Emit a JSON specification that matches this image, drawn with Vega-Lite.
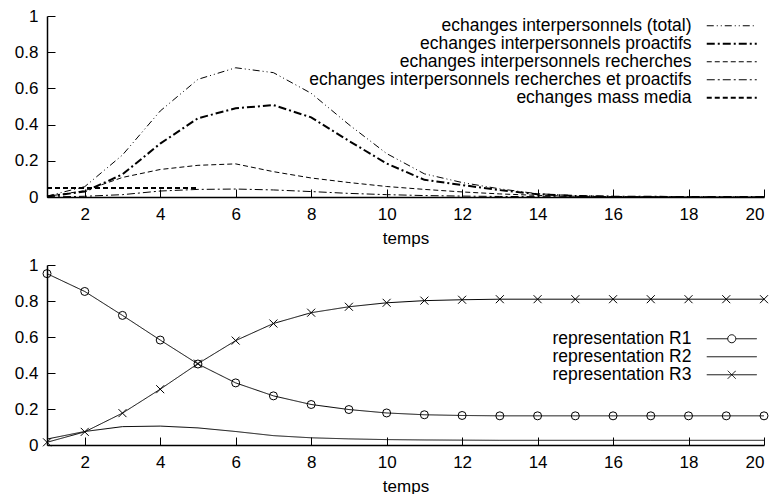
{
  "$schema": "https://vega.github.io/schema/vega-lite/v6.json",
  "padding": {"left": 14, "top": 7, "right": 0, "bottom": 0},
  "background": "white",
  "config": {
    "view": {"stroke": null},
    "font": "Liberation Sans",
    "axis": {
      "grid": false,
      "domainColor": "black",
      "domainWidth": 1.5,
      "tickColor": "black",
      "tickSize": -8,
      "labelColor": "black",
      "labelFont": "Liberation Sans",
      "labelFontSize": 17,
      "titleFont": "Liberation Sans",
      "titleFontSize": 17,
      "titleFontWeight": "normal",
      "titleColor": "black"
    },
    "legend": {
      "labelFont": "Liberation Sans",
      "labelFontSize": 17.5,
      "labelColor": "black",
      "labelLimit": 600,
      "labelAlign": "right",
      "labelOffset": -49,
      "symbolSize": 100,
      "symbolStrokeColor": "black",
      "symbolStrokeWidth": 1,
      "symbolFillColor": "transparent",
      "orient": "none",
      "padding": 0,
      "rowPadding": -2,
      "title": null
    }
  },
  "datasets": {
    "top": [
      {"t": 1, "serie": "echanges interpersonnels (total)", "v": 0.005},
      {"t": 2, "serie": "echanges interpersonnels (total)", "v": 0.057},
      {"t": 3, "serie": "echanges interpersonnels (total)", "v": 0.232},
      {"t": 4, "serie": "echanges interpersonnels (total)", "v": 0.475},
      {"t": 5, "serie": "echanges interpersonnels (total)", "v": 0.65},
      {"t": 6, "serie": "echanges interpersonnels (total)", "v": 0.714},
      {"t": 7, "serie": "echanges interpersonnels (total)", "v": 0.687},
      {"t": 8, "serie": "echanges interpersonnels (total)", "v": 0.573},
      {"t": 9, "serie": "echanges interpersonnels (total)", "v": 0.40},
      {"t": 10, "serie": "echanges interpersonnels (total)", "v": 0.24},
      {"t": 11, "serie": "echanges interpersonnels (total)", "v": 0.128},
      {"t": 12, "serie": "echanges interpersonnels (total)", "v": 0.08},
      {"t": 13, "serie": "echanges interpersonnels (total)", "v": 0.045},
      {"t": 14, "serie": "echanges interpersonnels (total)", "v": 0.018},
      {"t": 15, "serie": "echanges interpersonnels (total)", "v": 0.008},
      {"t": 16, "serie": "echanges interpersonnels (total)", "v": 0.003},
      {"t": 17, "serie": "echanges interpersonnels (total)", "v": 0.001},
      {"t": 18, "serie": "echanges interpersonnels (total)", "v": 0},
      {"t": 19, "serie": "echanges interpersonnels (total)", "v": 0},
      {"t": 20, "serie": "echanges interpersonnels (total)", "v": 0},
      {"t": 1, "serie": "echanges interpersonnels proactifs", "v": 0.003},
      {"t": 2, "serie": "echanges interpersonnels proactifs", "v": 0.03},
      {"t": 3, "serie": "echanges interpersonnels proactifs", "v": 0.125},
      {"t": 4, "serie": "echanges interpersonnels proactifs", "v": 0.295},
      {"t": 5, "serie": "echanges interpersonnels proactifs", "v": 0.435},
      {"t": 6, "serie": "echanges interpersonnels proactifs", "v": 0.49},
      {"t": 7, "serie": "echanges interpersonnels proactifs", "v": 0.508},
      {"t": 8, "serie": "echanges interpersonnels proactifs", "v": 0.44},
      {"t": 9, "serie": "echanges interpersonnels proactifs", "v": 0.31},
      {"t": 10, "serie": "echanges interpersonnels proactifs", "v": 0.185},
      {"t": 11, "serie": "echanges interpersonnels proactifs", "v": 0.095},
      {"t": 12, "serie": "echanges interpersonnels proactifs", "v": 0.066},
      {"t": 13, "serie": "echanges interpersonnels proactifs", "v": 0.038},
      {"t": 14, "serie": "echanges interpersonnels proactifs", "v": 0.015},
      {"t": 15, "serie": "echanges interpersonnels proactifs", "v": 0.006},
      {"t": 16, "serie": "echanges interpersonnels proactifs", "v": 0.002},
      {"t": 17, "serie": "echanges interpersonnels proactifs", "v": 0.001},
      {"t": 18, "serie": "echanges interpersonnels proactifs", "v": 0},
      {"t": 19, "serie": "echanges interpersonnels proactifs", "v": 0},
      {"t": 20, "serie": "echanges interpersonnels proactifs", "v": 0},
      {"t": 1, "serie": "echanges interpersonnels recherches", "v": 0.003},
      {"t": 2, "serie": "echanges interpersonnels recherches", "v": 0.035},
      {"t": 3, "serie": "echanges interpersonnels recherches", "v": 0.108},
      {"t": 4, "serie": "echanges interpersonnels recherches", "v": 0.152},
      {"t": 5, "serie": "echanges interpersonnels recherches", "v": 0.175},
      {"t": 6, "serie": "echanges interpersonnels recherches", "v": 0.183},
      {"t": 7, "serie": "echanges interpersonnels recherches", "v": 0.14},
      {"t": 8, "serie": "echanges interpersonnels recherches", "v": 0.105},
      {"t": 9, "serie": "echanges interpersonnels recherches", "v": 0.08},
      {"t": 10, "serie": "echanges interpersonnels recherches", "v": 0.058},
      {"t": 11, "serie": "echanges interpersonnels recherches", "v": 0.042},
      {"t": 12, "serie": "echanges interpersonnels recherches", "v": 0.028},
      {"t": 13, "serie": "echanges interpersonnels recherches", "v": 0.017},
      {"t": 14, "serie": "echanges interpersonnels recherches", "v": 0.009},
      {"t": 15, "serie": "echanges interpersonnels recherches", "v": 0.004},
      {"t": 16, "serie": "echanges interpersonnels recherches", "v": 0.002},
      {"t": 17, "serie": "echanges interpersonnels recherches", "v": 0.001},
      {"t": 18, "serie": "echanges interpersonnels recherches", "v": 0},
      {"t": 19, "serie": "echanges interpersonnels recherches", "v": 0},
      {"t": 20, "serie": "echanges interpersonnels recherches", "v": 0},
      {"t": 1, "serie": "echanges interpersonnels recherches et proactifs", "v": 0},
      {"t": 2, "serie": "echanges interpersonnels recherches et proactifs", "v": 0.004},
      {"t": 3, "serie": "echanges interpersonnels recherches et proactifs", "v": 0.013},
      {"t": 4, "serie": "echanges interpersonnels recherches et proactifs", "v": 0.033},
      {"t": 5, "serie": "echanges interpersonnels recherches et proactifs", "v": 0.042},
      {"t": 6, "serie": "echanges interpersonnels recherches et proactifs", "v": 0.044},
      {"t": 7, "serie": "echanges interpersonnels recherches et proactifs", "v": 0.039},
      {"t": 8, "serie": "echanges interpersonnels recherches et proactifs", "v": 0.03},
      {"t": 9, "serie": "echanges interpersonnels recherches et proactifs", "v": 0.02},
      {"t": 10, "serie": "echanges interpersonnels recherches et proactifs", "v": 0.013},
      {"t": 11, "serie": "echanges interpersonnels recherches et proactifs", "v": 0.008},
      {"t": 12, "serie": "echanges interpersonnels recherches et proactifs", "v": 0.005},
      {"t": 13, "serie": "echanges interpersonnels recherches et proactifs", "v": 0.003},
      {"t": 14, "serie": "echanges interpersonnels recherches et proactifs", "v": 0.002},
      {"t": 15, "serie": "echanges interpersonnels recherches et proactifs", "v": 0.001},
      {"t": 16, "serie": "echanges interpersonnels recherches et proactifs", "v": 0},
      {"t": 17, "serie": "echanges interpersonnels recherches et proactifs", "v": 0},
      {"t": 18, "serie": "echanges interpersonnels recherches et proactifs", "v": 0},
      {"t": 19, "serie": "echanges interpersonnels recherches et proactifs", "v": 0},
      {"t": 20, "serie": "echanges interpersonnels recherches et proactifs", "v": 0},
      {"t": 1, "serie": "echanges mass media", "v": 0.05},
      {"t": 2, "serie": "echanges mass media", "v": 0.05},
      {"t": 3, "serie": "echanges mass media", "v": 0.05},
      {"t": 4, "serie": "echanges mass media", "v": 0.05},
      {"t": 5, "serie": "echanges mass media", "v": 0.05}
    ],
    "bottom": [
      {"t": 1, "serie": "representation R1", "v": 0.952},
      {"t": 2, "serie": "representation R1", "v": 0.853},
      {"t": 3, "serie": "representation R1", "v": 0.72},
      {"t": 4, "serie": "representation R1", "v": 0.583},
      {"t": 5, "serie": "representation R1", "v": 0.45},
      {"t": 6, "serie": "representation R1", "v": 0.345},
      {"t": 7, "serie": "representation R1", "v": 0.273},
      {"t": 8, "serie": "representation R1", "v": 0.225},
      {"t": 9, "serie": "representation R1", "v": 0.197},
      {"t": 10, "serie": "representation R1", "v": 0.178},
      {"t": 11, "serie": "representation R1", "v": 0.168},
      {"t": 12, "serie": "representation R1", "v": 0.164},
      {"t": 13, "serie": "representation R1", "v": 0.162},
      {"t": 14, "serie": "representation R1", "v": 0.162},
      {"t": 15, "serie": "representation R1", "v": 0.162},
      {"t": 16, "serie": "representation R1", "v": 0.162},
      {"t": 17, "serie": "representation R1", "v": 0.162},
      {"t": 18, "serie": "representation R1", "v": 0.162},
      {"t": 19, "serie": "representation R1", "v": 0.162},
      {"t": 20, "serie": "representation R1", "v": 0.162},
      {"t": 1, "serie": "representation R2", "v": 0.033},
      {"t": 2, "serie": "representation R2", "v": 0.075},
      {"t": 3, "serie": "representation R2", "v": 0.102},
      {"t": 4, "serie": "representation R2", "v": 0.105},
      {"t": 5, "serie": "representation R2", "v": 0.095},
      {"t": 6, "serie": "representation R2", "v": 0.075},
      {"t": 7, "serie": "representation R2", "v": 0.052},
      {"t": 8, "serie": "representation R2", "v": 0.04},
      {"t": 9, "serie": "representation R2", "v": 0.034},
      {"t": 10, "serie": "representation R2", "v": 0.03},
      {"t": 11, "serie": "representation R2", "v": 0.028},
      {"t": 12, "serie": "representation R2", "v": 0.027},
      {"t": 13, "serie": "representation R2", "v": 0.026},
      {"t": 14, "serie": "representation R2", "v": 0.026},
      {"t": 15, "serie": "representation R2", "v": 0.026},
      {"t": 16, "serie": "representation R2", "v": 0.026},
      {"t": 17, "serie": "representation R2", "v": 0.026},
      {"t": 18, "serie": "representation R2", "v": 0.026},
      {"t": 19, "serie": "representation R2", "v": 0.026},
      {"t": 20, "serie": "representation R2", "v": 0.026},
      {"t": 1, "serie": "representation R3", "v": 0.015},
      {"t": 2, "serie": "representation R3", "v": 0.073},
      {"t": 3, "serie": "representation R3", "v": 0.177},
      {"t": 4, "serie": "representation R3", "v": 0.31},
      {"t": 5, "serie": "representation R3", "v": 0.452},
      {"t": 6, "serie": "representation R3", "v": 0.58},
      {"t": 7, "serie": "representation R3", "v": 0.675},
      {"t": 8, "serie": "representation R3", "v": 0.735},
      {"t": 9, "serie": "representation R3", "v": 0.768},
      {"t": 10, "serie": "representation R3", "v": 0.79},
      {"t": 11, "serie": "representation R3", "v": 0.802},
      {"t": 12, "serie": "representation R3", "v": 0.807},
      {"t": 13, "serie": "representation R3", "v": 0.81},
      {"t": 14, "serie": "representation R3", "v": 0.81},
      {"t": 15, "serie": "representation R3", "v": 0.81},
      {"t": 16, "serie": "representation R3", "v": 0.81},
      {"t": 17, "serie": "representation R3", "v": 0.81},
      {"t": 18, "serie": "representation R3", "v": 0.81},
      {"t": 19, "serie": "representation R3", "v": 0.81},
      {"t": 20, "serie": "representation R3", "v": 0.81}
    ]
  },
  "vconcat": [
    {
      "width": 717,
      "height": 181,
      "data": {"name": "top"},
      "mark": {"type": "line", "color": "black"},
      "encoding": {
        "x": {"field": "t", "type": "quantitative", "scale": {"domain": [1, 20], "nice": false}, "axis": {"values": [2, 4, 6, 8, 10, 12, 14, 16, 18, 20], "title": "temps", "labelPadding": 17, "titlePadding": 8}},
        "y": {"field": "v", "type": "quantitative", "scale": {"domain": [0, 1], "nice": false}, "axis": {"values": [0, 0.2, 0.4, 0.6, 0.8, 1], "labelExpr": "'' + datum.value", "title": null, "labelPadding": 17}},
        "strokeDash": {
          "field": "serie", "type": "nominal",
          "scale": {"domain": ["echanges interpersonnels (total)", "echanges interpersonnels proactifs", "echanges interpersonnels recherches", "echanges interpersonnels recherches et proactifs", "echanges mass media"], "range": [[7, 3, 1, 3, 1, 3], [8, 3, 2, 3], [5, 3], [8, 3, 2, 3], [5, 3]]},
          "legend": {"legendX": 676, "legendY": 1, "symbolType": "M-5,0H5"}
        },
        "strokeWidth": {
          "field": "serie", "type": "nominal",
          "scale": {"type": "ordinal", "domain": ["echanges interpersonnels (total)", "echanges interpersonnels proactifs", "echanges interpersonnels recherches", "echanges interpersonnels recherches et proactifs", "echanges mass media"], "range": [1, 2, 1, 1, 2]},
          "legend": {"legendX": 676, "legendY": 1, "symbolType": "M-5,0H5"}
        }
      }
    },
    {
      "width": 717,
      "height": 180,
      "data": {"name": "bottom"},
      "encoding": {
        "x": {"field": "t", "type": "quantitative", "scale": {"domain": [1, 20], "nice": false}, "axis": {"values": [2, 4, 6, 8, 10, 12, 14, 16, 18, 20], "title": "temps", "labelPadding": 17, "titlePadding": 8}},
        "y": {"field": "v", "type": "quantitative", "scale": {"domain": [0, 1], "nice": false}, "axis": {"values": [0, 0.2, 0.4, 0.6, 0.8, 1], "labelExpr": "'' + datum.value", "title": null, "labelPadding": 17}}
      },
      "layer": [
        {
          "mark": {"type": "line", "color": "black", "strokeWidth": 1},
          "encoding": {
            "strokeDash": {
              "field": "serie", "type": "nominal",
              "scale": {"domain": ["representation R1", "representation R2", "representation R3"], "range": [[1, 0], [1, 0], [1, 0]]},
              "legend": {
                "legendX": 676, "legendY": 65,
                "encode": {"symbols": {"update": {"shape": {"signal": "datum.value === 'representation R1' ? 'M-5,0H-0.8A0.8,0.8 0 1,1 0.8,0A0.8,0.8 0 1,1 -0.8,0M0.8,0H5' : (datum.value === 'representation R3' ? 'M-5,0H5M-0.8,-0.8L0.8,0.8M-0.8,0.8L0.8,-0.8' : 'M-5,0H5')"}}}}
              }
            }
          }
        },
        {
          "transform": [{"filter": "datum.serie === 'representation R1'"}],
          "mark": {"type": "point", "shape": "circle", "filled": false, "stroke": "black", "strokeWidth": 1, "size": 64, "opacity": 1}
        },
        {
          "transform": [{"filter": "datum.serie === 'representation R3'"}],
          "mark": {"type": "point", "shape": "M-1,-1L1,1M-1,1L1,-1", "filled": false, "stroke": "black", "strokeWidth": 1, "size": 64, "opacity": 1}
        }
      ]
    }
  ],
  "spacing": 68,
  "bounds": "flush",
  "resolve": {"scale": {"strokeDash": "independent", "strokeWidth": "independent"}, "legend": {"strokeDash": "independent"}}
}
